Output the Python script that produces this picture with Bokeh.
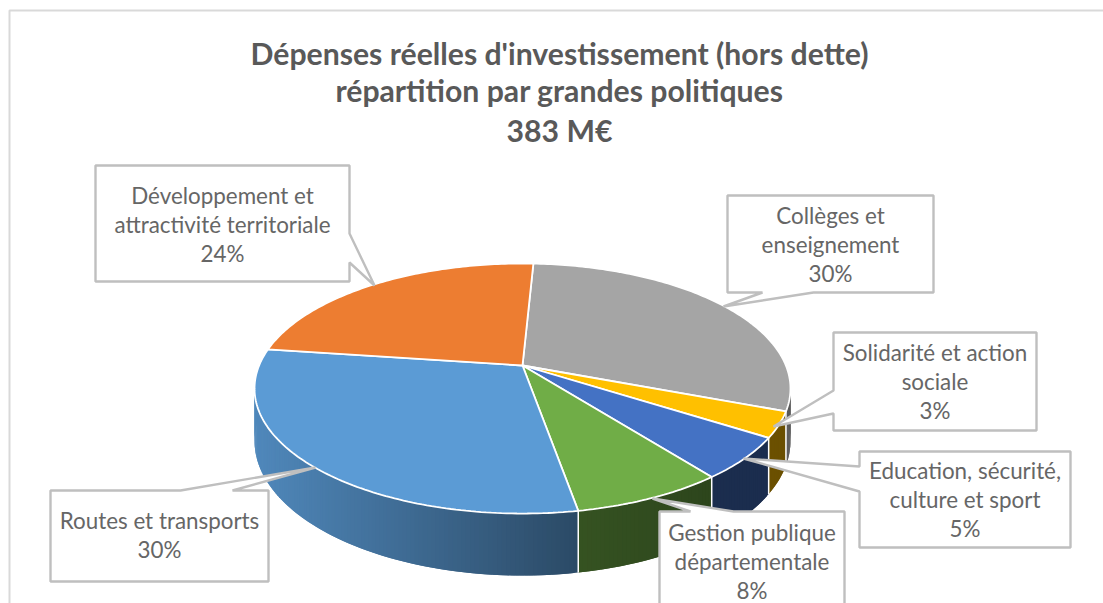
import numpy as np
from bokeh.plotting import figure
from bokeh.models import Range1d
from bokeh.core.properties import value
from bokeh.embed import file_html
from bokeh.resources import INLINE

# ---- data (clockwise from the top of the pie) ----
categories = [
    ["Collèges et", "enseignement"],
    ["Solidarité et action", "sociale"],
    ["Education, sécurité,", "culture et sport"],
    ["Gestion publique", "départementale"],
    ["Routes et transports"],
    ["Développement et", "attractivité territoriale"],
]
shares = [30.0, 3.3, 5.4, 7.75, 29.95, 23.6]
title_lines = ["Dépenses réelles d'investissement (hors dette)",
               "répartition par grandes politiques", "383 M€"]

# ---- styles ----
colors = ["#A5A5A5", "#FFC000", "#4472C4", "#70AD47", "#5B9BD5", "#ED7D31"]
TEXT = "#666666"
TITLE = "#595959"
BORDER = "#BFBFBF"
FONT = "Lato"
W, H = 1103, 603

# ---- layout: pie projection, page pixels ----
CX, CY = 522, 365
A, B, K = 263.4, 120.8, 0.184
DEPTH = 50.6
START = 2.8

# callouts: box (left, top, right, bottom), leader (edge a, tip, edge b), text centre y of first line
callouts = [
    ((727, 195, 933, 292), ((762, 292), (723, 306), (813, 292)), 214.5),
    ((833, 332, 1036, 430), ((833, 390), (773, 426), (833, 413)), 351.5),
    ((859, 451, 1070, 547), ((859, 466), (743, 458), (859, 491)), 469.5),
    ((659, 511, 844, 640), ((690, 511), (652, 498), (733, 511)), 532),
    ((50, 490, 268, 581), ((180, 490), (315, 467), (232, 490)), 519.5),
    ((95, 165, 349, 281), ((349, 233), (374, 285), (349, 262)), 194.5),
]
LINE = 29


def project(theta, z=0.0):
    t = np.radians(theta)
    u, v = np.sin(t), np.cos(t)
    d = 1 + K * v
    return CX + A * u / d, CY - B * v / d + z / d


def shade(hex_color, f):
    r, g, b = (int(hex_color[i:i + 2], 16) for i in (1, 3, 5))
    return "#%02x%02x%02x" % (int(r * f), int(g * f), int(b * f))


def wall_factor(x):
    if x < 578:
        return 0.88 - 0.40 * (x - 255) / (578 - 255)
    return 0.48 - 0.08 * min(1.0, (x - 578) / 140)


p = figure(width=W, height=H, output_backend="svg", toolbar_location=None,
           x_range=Range1d(0, W), y_range=Range1d(H, 0),
           min_border=0, outline_line_color=None, background_fill_color="white")
p.xaxis.visible = False
p.yaxis.visible = False
p.grid.visible = False

# chart frame
p.line([9, 9, W], [H, 10, 10], line_color="#D9D9D9", line_width=2)

edges = START + np.cumsum([0] + shares) * 3.6

# side walls: overlapping strips, so that no seam shows
wx, wy, wc = [], [], []
for i, col in enumerate(colors):
    a0, a1 = edges[i], edges[i + 1]
    n = max(2, int((a1 - a0) / 0.8))
    th = np.linspace(a0, a1, n + 1)
    step = th[1] - th[0]
    for t0, t1 in zip(th[:-1], th[1:]):
        tm = (t0 + t1) / 2
        if not (85 < (tm % 360) < 275):
            continue
        t2 = min(t1 + step, a1)
        x0, y0 = project(t0)
        x1, y1 = project(t2)
        x2, y2 = project(t2, DEPTH)
        x3, y3 = project(t0, DEPTH)
        wx.append([x0, x1, x2, x3])
        wy.append([y0, y1, y2, y3])
        xm = project(tm)[0]
        f = 0.55 if i == 0 else wall_factor(xm)
        if i == 1:
            f = 0.42
        wc.append(shade(col, f))
p.patches(wx, wy, fill_color=wc, line_color=None)

# white separators down the walls
for e in edges[1:5]:
    x0, y0 = project(e)
    x1, y1 = project(e, DEPTH)
    p.line([x0, x1], [y0, y1], line_color="white", line_width=1.5)

# top face
tx, ty = [], []
for i in range(len(shares)):
    th = np.linspace(edges[i], edges[i + 1], max(3, int(shares[i] * 4)))
    xs, ys = project(th)
    tx.append([CX] + list(xs))
    ty.append([CY] + list(ys))
p.patches(tx, ty, fill_color=colors, line_color="white", line_width=1.8)

# callouts
for (l, t, r, b), (ea, tip, eb), _ in callouts:
    if ea[1] == eb[1] and ea[1] == b:        # leader on bottom side
        path = [(l, t), (r, t), (r, b), eb, tip, ea, (l, b), (l, t)]
    elif ea[1] == eb[1] and ea[1] == t:      # leader on top side
        path = [(l, t), ea, tip, eb, (r, t), (r, b), (l, b), (l, t)]
    elif ea[0] == l:                         # leader on left side
        path = [(l, t), (r, t), (r, b), (l, b), eb, tip, ea, (l, t)]
    else:                                    # leader on right side
        path = [(l, t), (r, t), ea, tip, eb, (r, b), (l, b), (l, t)]
    px_, py_ = zip(*path)
    p.patch(list(px_), list(py_), fill_color="white", line_color=BORDER, line_width=2.4)

# callout texts
tx_x, tx_y, tx_s = [], [], []
for cat, share, ((l, t, r, b), _, y0) in zip(categories, shares, callouts):
    lines = list(cat) + ["%d%%" % round(share)]
    cx = (l + r) / 2
    for j, s in enumerate(lines):
        tx_x.append(cx)
        tx_y.append(y0 + j * LINE)
        tx_s.append(s)
p.text(tx_x, tx_y, text=tx_s, text_color=TEXT, text_font=value(FONT),
       text_font_size="22.4px", text_align="center", text_baseline="middle")

# title
p.text([559, 559, 559], [52, 89, 129], text=title_lines, text_color=TITLE,
       text_font=value(FONT), text_font_style="bold", text_font_size="30.2px",
       text_align="center", text_baseline="middle")

open("out.html", "w").write(file_html(p, INLINE))
